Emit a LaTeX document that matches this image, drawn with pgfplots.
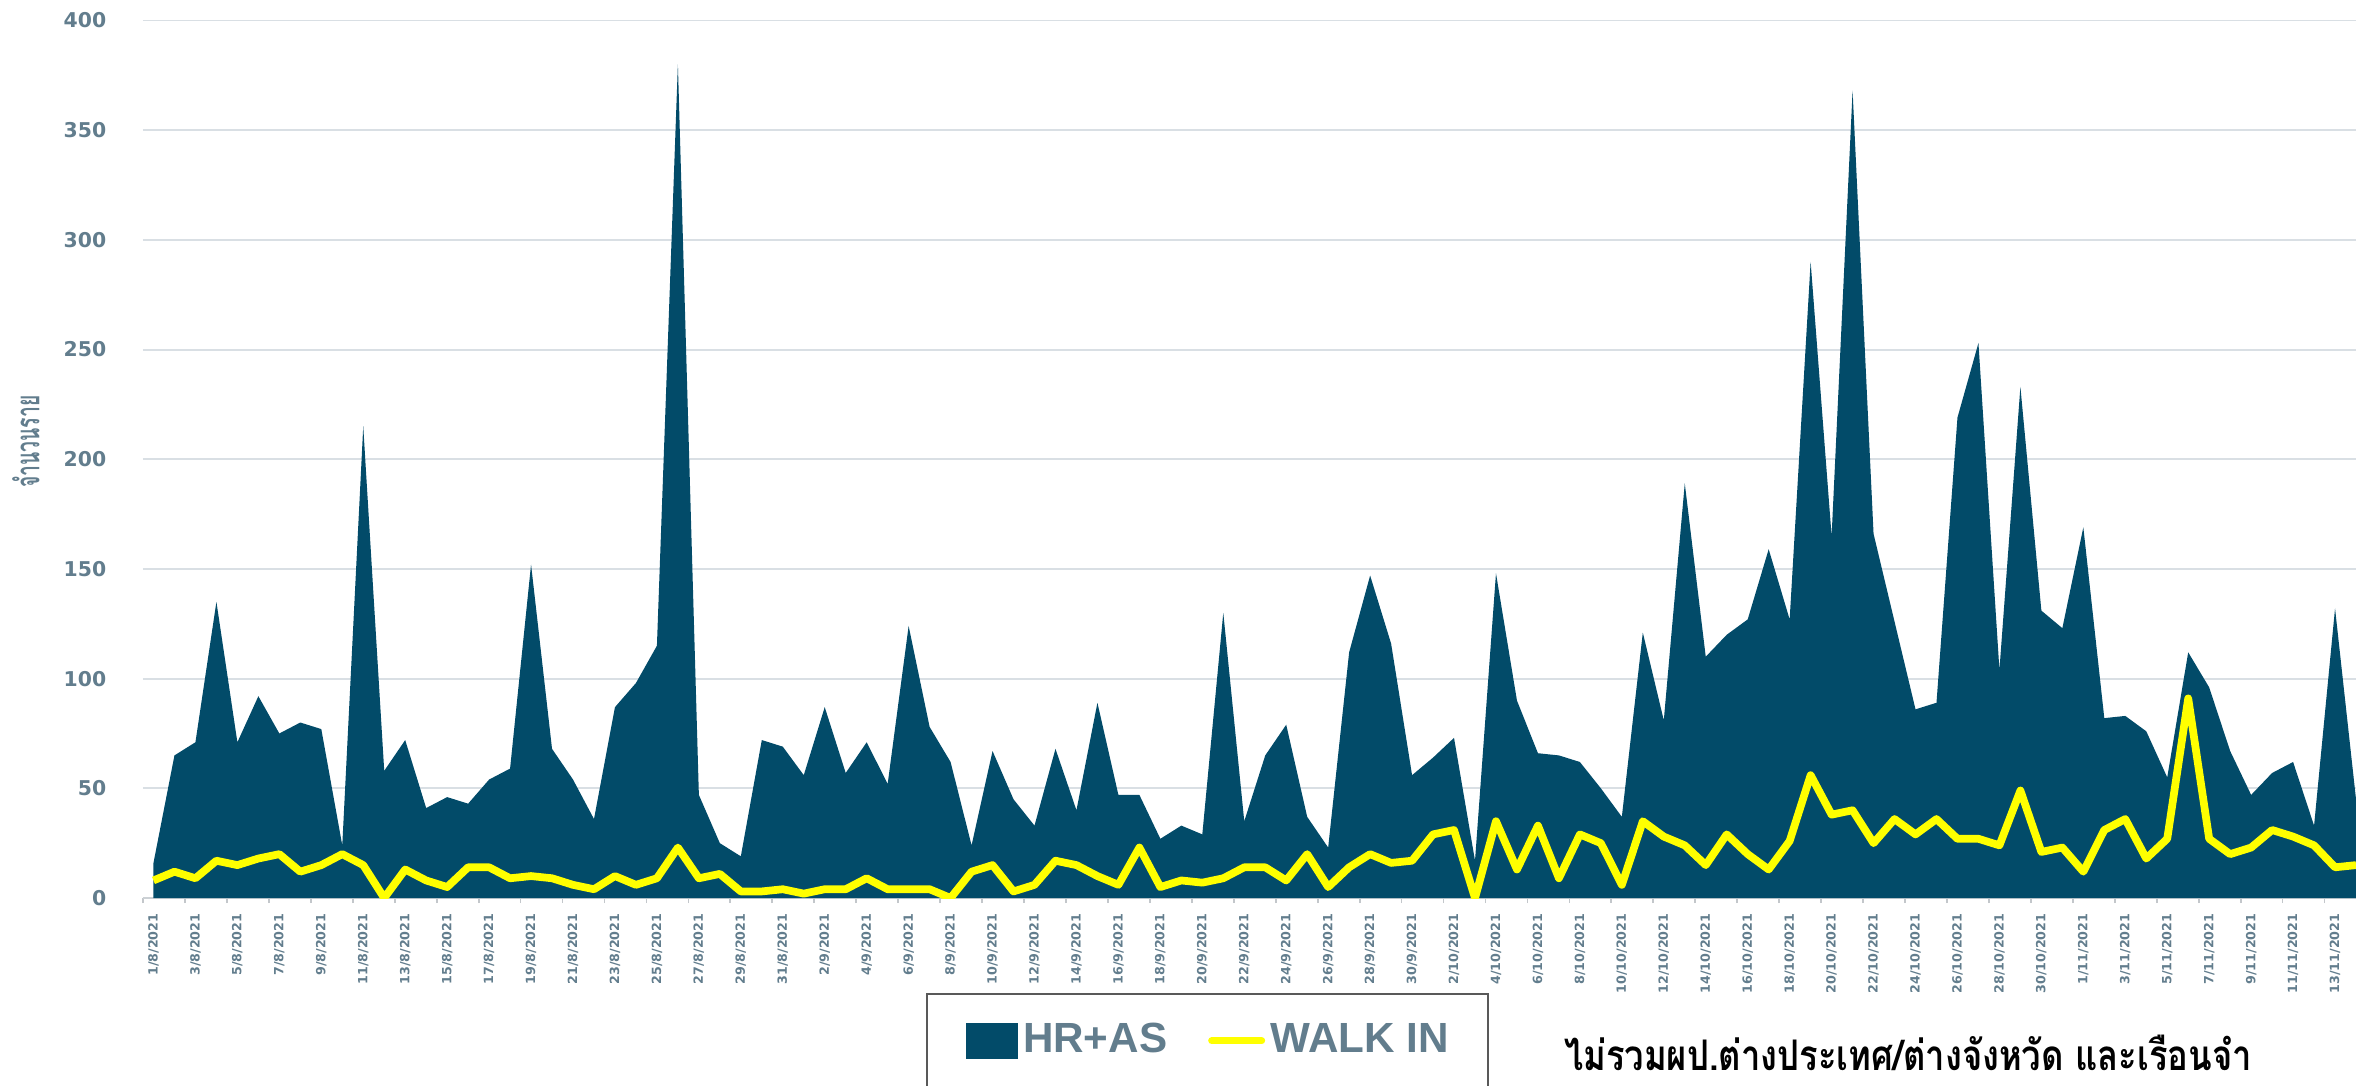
\documentclass[border=0pt]{standalone}
\usepackage{fontspec}
\usepackage{pgfplots}
\pgfplotsset{compat=1.18}
\setmainfont{Liberation Sans}
\newfontfamily\tickfont{DejaVu Sans}
\newfontfamily\legfont{Liberation Sans}
\newfontfamily\thaifont[Script=Thai,FakeStretch=0.82]{Loma}
\newfontfamily\thaiylab[Script=Thai,FakeStretch=0.58]{Loma}
\definecolor{hr}{HTML}{024B69}
\definecolor{walk}{HTML}{FFFF00}
\definecolor{tickc}{HTML}{627D8D}
\definecolor{gridc}{HTML}{D9DFE4}
\begin{document}
\begin{tikzpicture}[x=1mm,y=1mm]
\useasboundingbox (-14.3,-18.7) rectangle (221.3,89.8);
\begin{axis}[
  at={(0,0)}, anchor=south west,
  scale only axis, width=221.3mm, height=87.75mm,
  xmin=-0.5, xmax=105, ymin=0, ymax=400,
  ytick={0,50,...,400},
  ymajorgrids, grid style={gridc, line width=0.55pt},
  axis x line*=bottom, axis y line*=left,
  y axis line style={draw=none},
  x axis line style={draw=gridc!85!gray, line width=0.6pt},
  major tick length=0pt, minor tick length=0.5mm, tick align=outside,
  minor tick style={draw=gridc!75!gray, line width=0.5pt},
  xtick={0,2,...,104},
  minor xtick={-0.5,1.5,...,103.5},
  xticklabels={1/8/2021,3/8/2021,5/8/2021,7/8/2021,9/8/2021,11/8/2021,13/8/2021,15/8/2021,17/8/2021,19/8/2021,21/8/2021,23/8/2021,25/8/2021,27/8/2021,29/8/2021,31/8/2021,2/9/2021,4/9/2021,6/9/2021,8/9/2021,10/9/2021,12/9/2021,14/9/2021,16/9/2021,18/9/2021,20/9/2021,22/9/2021,24/9/2021,26/9/2021,28/9/2021,30/9/2021,2/10/2021,4/10/2021,6/10/2021,8/10/2021,10/10/2021,12/10/2021,14/10/2021,16/10/2021,18/10/2021,20/10/2021,22/10/2021,24/10/2021,26/10/2021,28/10/2021,30/10/2021,1/11/2021,3/11/2021,5/11/2021,7/11/2021,9/11/2021,11/11/2021,13/11/2021},
  xticklabel style={rotate=90, anchor=east, inner sep=0pt, font=\tickfont\bfseries\fontsize{3.6}{4.2}\selectfont, text=tickc},
  xticklabel shift=1.5mm,
  yticklabel style={anchor=east, inner sep=0pt, font=\tickfont\bfseries\fontsize{5.8}{7}\selectfont, text=tickc},
  yticklabel shift=3.6mm,
  /pgf/number format/assume math mode=true,
  ylabel={จำนวนราย},
  every axis y label/.style={at={(rel axis cs:-0.0529,0.52)}, rotate=90, anchor=center},
  ylabel style={font=\thaiylab\bfseries\fontsize{9.5}{11}\selectfont, text=tickc},
  legend columns=2,
  legend style={at={(rel axis cs:0.3538,-0.1079)}, anchor=north west,
    draw=black!65, line width=0.6pt, inner xsep=3.9mm, inner ysep=2.9mm,
    nodes={inner sep=0pt, minimum width=0pt, minimum height=0pt},
    font=\legfont\bfseries\fontsize{12}{14}\selectfont, text=tickc,
    /tikz/every odd column/.append style={column sep=0.55mm},
    /tikz/every even column/.append style={column sep=4.1mm}},
]
\addplot[draw=none, fill=hr,
  legend image code/.code={\fill[hr] (0mm,-1.8mm) rectangle (5.15mm,1.8mm);}]
table[row sep=\\] {
x y\\
0 16\\ 1 65\\ 2 71\\ 3 135\\ 4 71\\ 5 92\\ 6 75\\ 7 80\\ 8 77\\ 9 24\\
10 215\\ 11 58\\ 12 72\\ 13 41\\ 14 46\\ 15 43\\ 16 54\\ 17 59\\ 18 152\\ 19 68\\
20 54\\ 21 36\\ 22 87\\ 23 98\\ 24 115\\ 25 380\\ 26 47\\ 27 25\\ 28 19\\ 29 72\\
30 69\\ 31 56\\ 32 87\\ 33 57\\ 34 71\\ 35 52\\ 36 124\\ 37 78\\ 38 62\\ 39 24\\
40 67\\ 41 45\\ 42 33\\ 43 68\\ 44 40\\ 45 89\\ 46 47\\ 47 47\\ 48 27\\ 49 33\\
50 29\\ 51 130\\ 52 35\\ 53 65\\ 54 79\\ 55 37\\ 56 23\\ 57 112\\ 58 147\\ 59 116\\
60 56\\ 61 64\\ 62 73\\ 63 17\\ 64 148\\ 65 90\\ 66 66\\ 67 65\\ 68 62\\ 69 50\\
70 37\\ 71 121\\ 72 81\\ 73 189\\ 74 110\\ 75 120\\ 76 127\\ 77 159\\ 78 127\\ 79 290\\
80 165\\ 81 368\\ 82 166\\ 83 126\\ 84 86\\ 85 89\\ 86 219\\ 87 253\\ 88 104\\ 89 233\\
90 131\\ 91 123\\ 92 169\\ 93 82\\ 94 83\\ 95 76\\ 96 55\\ 97 112\\ 98 96\\ 99 67\\
100 47\\ 101 57\\ 102 62\\ 103 33\\ 104 132\\ 105 45\\
} \closedcycle;
\addlegendentry{HR+AS}
\addplot[walk, line width=2.2pt, line join=round,
  legend image code/.code={\draw[walk, line width=2pt, line cap=round] (0.35mm,0mm) -- (5.35mm,0mm);}]
table[row sep=\\] {
x y\\
0 8\\ 1 12\\ 2 9\\ 3 17\\ 4 15\\ 5 18\\ 6 20\\ 7 12\\ 8 15\\ 9 20\\
10 15\\ 11 0\\ 12 13\\ 13 8\\ 14 5\\ 15 14\\ 16 14\\ 17 9\\ 18 10\\ 19 9\\
20 6\\ 21 4\\ 22 10\\ 23 6\\ 24 9\\ 25 23\\ 26 9\\ 27 11\\ 28 3\\ 29 3\\
30 4\\ 31 2\\ 32 4\\ 33 4\\ 34 9\\ 35 4\\ 36 4\\ 37 4\\ 38 0\\ 39 12\\
40 15\\ 41 3\\ 42 6\\ 43 17\\ 44 15\\ 45 10\\ 46 6\\ 47 23\\ 48 5\\ 49 8\\
50 7\\ 51 9\\ 52 14\\ 53 14\\ 54 8\\ 55 20\\ 56 5\\ 57 14\\ 58 20\\ 59 16\\
60 17\\ 61 29\\ 62 31\\ 63 0\\ 64 35\\ 65 13\\ 66 33\\ 67 9\\ 68 29\\ 69 25\\
70 6\\ 71 35\\ 72 28\\ 73 24\\ 74 15\\ 75 29\\ 76 20\\ 77 13\\ 78 26\\ 79 56\\
80 38\\ 81 40\\ 82 25\\ 83 36\\ 84 29\\ 85 36\\ 86 27\\ 87 27\\ 88 24\\ 89 49\\
90 21\\ 91 23\\ 92 12\\ 93 31\\ 94 36\\ 95 18\\ 96 27\\ 97 91\\ 98 27\\ 99 20\\
100 23\\ 101 31\\ 102 28\\ 103 24\\ 104 14\\ 105 15\\
};
\addlegendentry{WALK IN}
\end{axis}
\node[anchor=base, font=\thaifont\bfseries\fontsize{12}{14}\selectfont, text=black] at (176.5,-17.2) {ไม่รวมผป.ต่างประเทศ/ต่างจังหวัด และเรือนจำ};
\end{tikzpicture}
\end{document}
